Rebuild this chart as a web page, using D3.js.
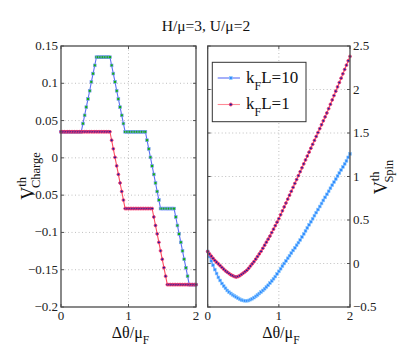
<!DOCTYPE html>
<html><head><meta charset="utf-8">
<script src="https://cdn.jsdelivr.net/npm/d3@7"></script>
<style>
html,body{margin:0;padding:0;background:#fff;}
svg{display:block;}
</style></head>
<body>
<svg id="c" width="415" height="359"></svg>
<script>
// ---------- data ----------
const xStep = 0.025;
const xValues = d3.range(81).map(i => +(i * xStep).toFixed(3));

// Left panel: V^th_Charge, k_F L = 10
const chargeKL10 = [
 0.035,0.035,0.035,0.035,0.035,0.035,0.035,0.035,0.035,0.035,
 0.035,0.035,0.035,0.046,0.057,0.068,0.079,0.090,0.102,0.113,
 0.124,0.135,0.135,0.135,0.135,0.135,0.135,0.135,0.135,0.135,
 0.124,0.113,0.102,0.090,0.079,0.068,0.057,0.046,0.035,0.035,
 0.035,0.035,0.035,0.035,0.035,0.035,0.035,0.035,0.035,0.035,
 0.035,0.0236,0.0121,0.0007,-0.0108,-0.0222,-0.0337,-0.0451,-0.0566,-0.068,
 -0.068,-0.068,-0.068,-0.068,-0.068,-0.068,-0.068,-0.068,-0.0793,-0.0907,
 -0.102,-0.1133,-0.1247,-0.136,-0.1473,-0.1587,-0.17,-0.17,-0.17,-0.17,-0.17
];
// Left panel: V^th_Charge, k_F L = 1
const chargeKL1 = [
 0.035,0.035,0.035,0.035,0.035,0.035,0.035,0.035,0.035,0.035,
 0.035,0.035,0.035,0.035,0.035,0.035,0.035,0.035,0.035,0.035,
 0.035,0.035,0.035,0.035,0.035,0.035,0.035,0.035,0.035,0.035,
 0.0236,0.0121,0.0007,-0.0108,-0.0222,-0.0337,-0.0451,-0.0566,-0.068,-0.068,
 -0.068,-0.068,-0.068,-0.068,-0.068,-0.068,-0.068,-0.068,-0.068,-0.068,
 -0.068,-0.068,-0.068,-0.068,-0.068,-0.0793,-0.0907,-0.102,-0.1133,-0.1247,
 -0.136,-0.1473,-0.1587,-0.17,-0.17,-0.17,-0.17,-0.17,-0.17,-0.17,
 -0.17,-0.17,-0.17,-0.17,-0.17,-0.17,-0.17,-0.17,-0.17,-0.17,-0.17
];

// Right panel: V^th_Spin
const spinKL10 = [
 0.138,0.08,0.03,-0.02,-0.07,-0.115,-0.16,-0.195,-0.23,-0.26,
 -0.285,-0.31,-0.33,-0.345,-0.36,-0.372,-0.385,-0.398,-0.41,-0.42,
 -0.425,-0.428,-0.428,-0.425,-0.415,-0.405,-0.392,-0.378,-0.362,-0.345,
 -0.328,-0.31,-0.29,-0.27,-0.25,-0.225,-0.2,-0.175,-0.15,-0.12,
 -0.09,-0.06,-0.03,0.0,0.03,0.06,0.09,0.12,0.15,0.18,
 0.21,0.24,0.27,0.305,0.34,0.375,0.41,0.445,0.48,0.515,
 0.55,0.585,0.62,0.655,0.69,0.725,0.76,0.795,0.83,0.865,
 0.9,0.935,0.97,1.005,1.04,1.075,1.11,1.145,1.18,1.22,1.26
];
const spinKL1 = [
 0.138,0.11,0.085,0.06,0.035,0.015,-0.005,-0.025,-0.045,-0.065,
 -0.085,-0.10,-0.115,-0.13,-0.14,-0.15,-0.155,-0.15,-0.14,-0.125,
 -0.11,-0.095,-0.078,-0.055,-0.03,-0.005,0.02,0.05,0.08,0.11,
 0.14,0.175,0.21,0.245,0.28,0.315,0.355,0.395,0.435,0.475,
 0.515,0.56,0.605,0.65,0.695,0.74,0.785,0.83,0.875,0.92,
 0.965,1.01,1.055,1.10,1.145,1.19,1.235,1.28,1.325,1.37,
 1.415,1.46,1.505,1.55,1.595,1.64,1.685,1.73,1.78,1.83,
 1.88,1.93,1.98,2.03,2.08,2.13,2.18,2.23,2.28,2.33,2.38
];

const xTicks = [0, 1, 2];
const chargeTicks = [0.15, 0.1, 0.05, 0, -0.05, -0.1, -0.15, -0.2];
const spinTicks = [2.5, 2, 1.5, 1, 0.5, 0, -0.5];
const legendLabels = ["10", "1"];
const titleText = "H/\u03bc=3, U/\u03bc=2";

// ---------- drawing ----------
const svg = d3.select("#c");
const FONT = "Liberation Serif";
const fmt = v => (v < 0 ? "\u2212" : "") + String(Math.abs(v));

const L = {x0: 61, x1: 196, y0: 46, y1: 307};
const R = {x0: 207.7, x1: 350, y0: 46, y1: 307};

const xL = d3.scaleLinear().domain([0, 2]).range([L.x0, L.x1]);
const yL = d3.scaleLinear().domain([-0.2, 0.15]).range([L.y1, L.y0]);
const xR = d3.scaleLinear().domain([0, 2]).range([R.x0, R.x1]);
const yR = d3.scaleLinear().domain([-0.5, 2.5]).range([R.y1, R.y0]);

const C = {
  blueLine: "#5b6ef5", red: "#ff4d5e",
  greenFill: "#12b012", blueEdge: "#7d98ff",
  darkBlue: "#1f1f9e", redEdge: "#ff3a6a",
  lightBlueFill: "#2f8cff", lightBlueEdge: "#8cc8ff"
};

function panel(P, xs, ys, yTicks, side) {
  const g = svg.append("g");
  g.append("g").selectAll("line").data(xTicks.slice(1, -1)).join("line")
    .attr("x1", d => xs(d)).attr("x2", d => xs(d)).attr("y1", P.y0).attr("y2", P.y1)
    .attr("stroke", "#b0b0b0").attr("stroke-width", 0.8).attr("stroke-dasharray", "1,2.5");
  g.append("g").selectAll("line").data(yTicks.slice(1, -1)).join("line")
    .attr("x1", P.x0).attr("x2", P.x1).attr("y1", d => ys(d)).attr("y2", d => ys(d))
    .attr("stroke", "#b0b0b0").attr("stroke-width", 0.8).attr("stroke-dasharray", "1,2.5");
  const tl = 3;
  yTicks.forEach(t => {
    g.append("line").attr("x1", P.x0).attr("x2", P.x0 + tl).attr("y1", ys(t)).attr("y2", ys(t)).attr("stroke", "#555");
    g.append("line").attr("x1", P.x1).attr("x2", P.x1 - tl).attr("y1", ys(t)).attr("y2", ys(t)).attr("stroke", "#555");
  });
  xTicks.forEach(t => {
    g.append("line").attr("x1", xs(t)).attr("x2", xs(t)).attr("y1", P.y1).attr("y2", P.y1 - tl).attr("stroke", "#555");
    g.append("line").attr("x1", xs(t)).attr("x2", xs(t)).attr("y1", P.y0).attr("y2", P.y0 + tl).attr("stroke", "#555");
  });
  g.append("g").selectAll("text").data(yTicks).join("text")
    .attr("font-family", FONT)
    .attr("x", side === "left" ? P.x0 - 3 : P.x1 + 3)
    .attr("y", d => ys(d) + 4)
    .attr("text-anchor", side === "left" ? "end" : "start")
    .attr("font-size", 13).attr("fill", "#222")
    .text(d => fmt(d));
  g.append("g").selectAll("text").data(xTicks).join("text")
    .attr("font-family", FONT)
    .attr("x", d => xs(d)).attr("y", P.y1 + 13)
    .attr("text-anchor", "middle").attr("font-size", 13).attr("fill", "#222")
    .text(d => fmt(d));
  return g;
}

function series(g, xs, ys, vals, lineColor, shape, fill, edge) {
  const data = xValues.map((x, i) => [x, vals[i]]);
  g.append("path").datum(data)
    .attr("d", d3.line().x(d => xs(d[0])).y(d => ys(d[1])))
    .attr("fill", "none").attr("stroke", lineColor).attr("stroke-width", 1.1);
  const m = g.append("g");
  if (shape === "square") {
    m.selectAll("rect").data(data).join("rect")
      .attr("x", d => xs(d[0]) - 1.4).attr("y", d => ys(d[1]) - 1.4)
      .attr("width", 2.8).attr("height", 2.8)
      .attr("fill", fill).attr("stroke", edge).attr("stroke-width", 0.6);
  } else {
    m.selectAll("circle").data(data).join("circle")
      .attr("cx", d => xs(d[0])).attr("cy", d => ys(d[1])).attr("r", 1.4)
      .attr("fill", fill).attr("stroke", edge).attr("stroke-width", 0.9);
  }
}

// left panel
panel(L, xL, yL, chargeTicks, "left");
const plotL = svg.append("g");
series(plotL, xL, yL, chargeKL10, C.blueLine, "square", C.greenFill, C.blueEdge);
series(plotL, xL, yL, chargeKL1, C.red, "circle", C.darkBlue, C.redEdge);

// right panel
panel(R, xR, yR, spinTicks, "right");
const plotR = svg.append("g");
series(plotR, xR, yR, spinKL10, C.blueLine, "square", C.lightBlueFill, C.lightBlueEdge);
series(plotR, xR, yR, spinKL1, C.red, "circle", C.darkBlue, C.redEdge);

// frames
[L, R].forEach(P => {
  svg.append("rect").attr("x", P.x0).attr("y", P.y0)
    .attr("width", P.x1 - P.x0).attr("height", P.y1 - P.y0)
    .attr("fill", "none").attr("stroke", "#4a4a4a").attr("stroke-width", 1.3);
});

// legend
const lg = svg.append("g");
lg.append("rect").attr("x", 212.3).attr("y", 62.3).attr("width", 93.7).attr("height", 59.4)
  .attr("fill", "#fff").attr("stroke", "#333").attr("stroke-width", 1);
const legRows = [
  {lab: legendLabels[0], y: 78, line: C.blueLine, shape: "square", fill: C.lightBlueFill, edge: C.lightBlueEdge},
  {lab: legendLabels[1], y: 104.5, line: "#ff8a95", shape: "circle", fill: C.darkBlue, edge: C.redEdge}
];
legRows.forEach(r => {
  lg.append("line").attr("x1", 217.7).attr("x2", 240).attr("y1", r.y).attr("y2", r.y)
    .attr("stroke", r.line).attr("stroke-width", 1.1);
  if (r.shape === "square") {
    lg.append("rect").attr("x", 229.4).attr("y", r.y - 1.4).attr("width", 2.8).attr("height", 2.8)
      .attr("fill", r.fill).attr("stroke", r.edge).attr("stroke-width", 0.7);
  } else {
    lg.append("circle").attr("cx", 230.8).attr("cy", r.y).attr("r", 1.5)
      .attr("fill", r.fill).attr("stroke", r.edge).attr("stroke-width", 0.9);
  }
  const t = lg.append("text").attr("font-family", FONT).attr("x", 246).attr("y", r.y + 4.5)
    .attr("font-size", 17).attr("fill", "#111");
  t.append("tspan").text("k");
  t.append("tspan").attr("font-size", 12).attr("dy", 7).text("F");
  t.append("tspan").attr("dy", -7).text("L=" + r.lab);
});

// title
svg.append("text").attr("font-family", FONT).attr("x", 206).attr("y", 31).attr("text-anchor", "middle")
  .attr("font-size", 15.5).attr("fill", "#111").text(titleText);

// x labels
function xLabel(cx) {
  const t = svg.append("text").attr("font-family", FONT).attr("x", cx).attr("y", 338).attr("text-anchor", "middle")
    .attr("font-size", 16).attr("fill", "#111");
  t.append("tspan").text("\u0394\u03b8/\u03bc");
  t.append("tspan").attr("font-size", 11.5).attr("dy", 6).text("F");
}
xLabel(xL(1) + 2);
xLabel(xR(1) + 2);

// y labels
function yLabel(cx, cy, sub) {
  const t = svg.append("text").attr("font-family", FONT).attr("transform", `translate(${cx},${cy}) rotate(-90)`)
    .attr("text-anchor", "middle").attr("font-size", 18).attr("fill", "#111");
  t.append("tspan").text("V");
  t.append("tspan").attr("font-size", 12.5).attr("dy", -8).text("th");
  t.append("tspan").attr("font-size", 12.5).attr("dx", -11).attr("dy", 14).text(sub);
}
yLabel(34, 176, "Charge");
yLabel(387, 177, "Spin");
</script>
</body></html>
